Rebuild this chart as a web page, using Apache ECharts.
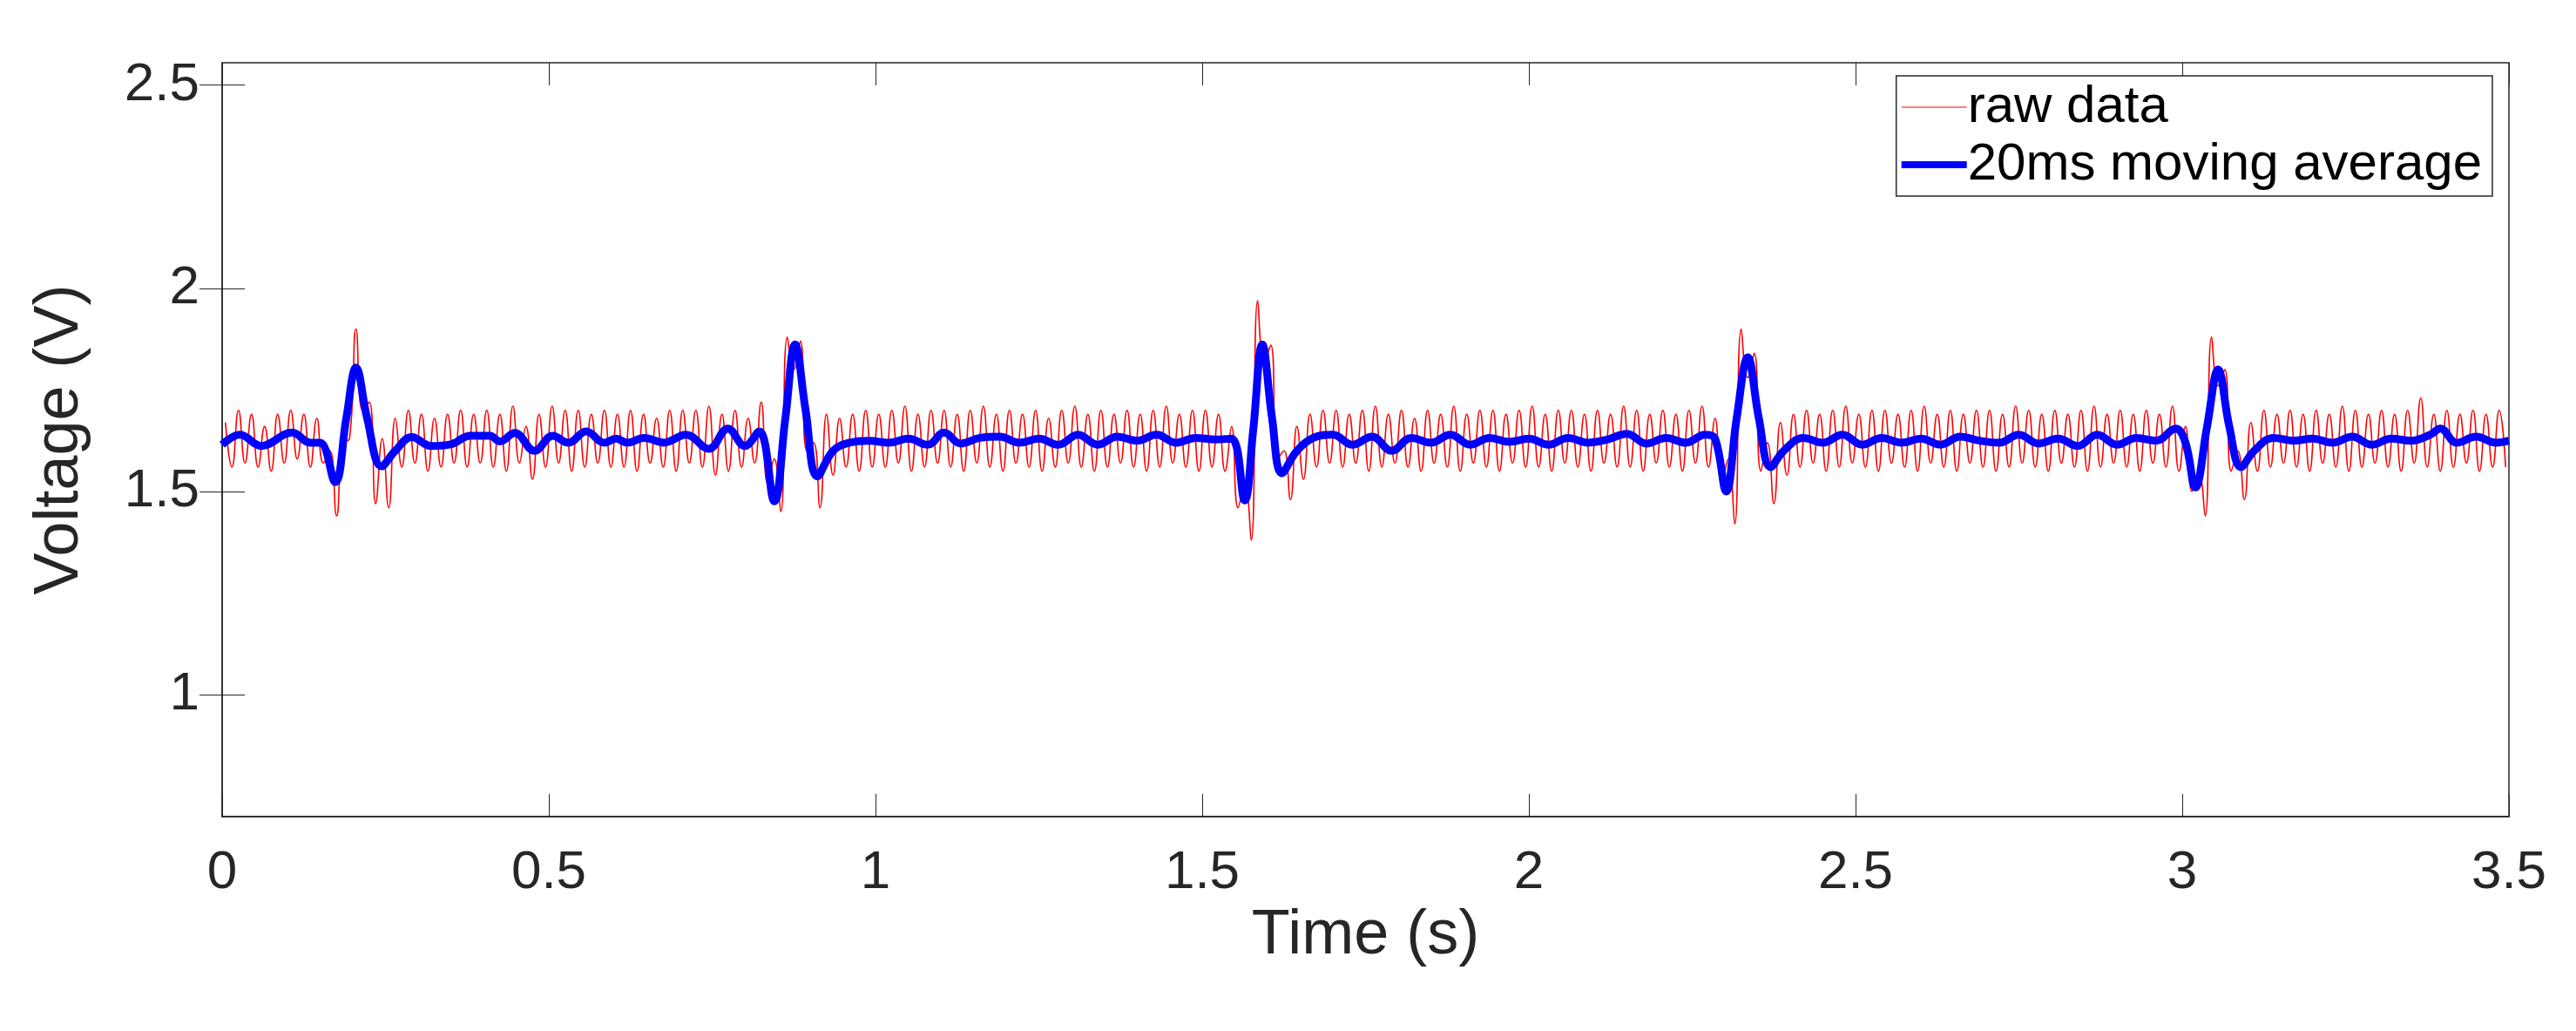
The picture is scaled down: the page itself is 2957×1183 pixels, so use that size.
<!DOCTYPE html>
<html>
<head>
<meta charset="utf-8">
<script src="https://cdn.jsdelivr.net/npm/echarts@6/dist/echarts.min.js"></script>
<style>html,body{margin:0;padding:0;background:#fff}#c{width:2957px;height:1183px}</style>
</head>
<body>
<div id="c"></div>
<script>
// raw signal: alternating peak / trough every 10 ms (one row = 0.1 s)
const RAW_STEP = 0.01;
const RAW_START = 0.005;
const rawValues = [
  1.67,1.56,1.70,1.57,1.69,1.56,1.66,1.55,1.69,1.57,
  1.70,1.58,1.69,1.56,1.68,1.57,1.60,1.44,1.62,1.63,
  1.90,1.70,1.72,1.47,1.63,1.46,1.68,1.56,1.70,1.57,
  1.69,1.55,1.68,1.56,1.69,1.57,1.70,1.56,1.69,1.57,
  1.70,1.56,1.69,1.55,1.71,1.57,1.66,1.53,1.69,1.56,
  1.71,1.57,1.70,1.55,1.70,1.56,1.69,1.57,1.70,1.56,
  1.69,1.56,1.70,1.55,1.69,1.57,1.68,1.56,1.70,1.55,
  1.70,1.57,1.70,1.56,1.71,1.54,1.69,1.55,1.70,1.56,
  1.68,1.57,1.72,1.52,1.58,1.45,1.88,1.80,1.87,1.60,
  1.62,1.46,1.69,1.54,1.68,1.56,1.69,1.55,1.70,1.56,
  1.69,1.56,1.70,1.57,1.71,1.55,1.69,1.56,1.70,1.57,
  1.70,1.56,1.69,1.55,1.70,1.57,1.71,1.56,1.69,1.55,
  1.70,1.57,1.69,1.56,1.70,1.55,1.68,1.56,1.70,1.57,
  1.71,1.56,1.69,1.55,1.70,1.56,1.69,1.57,1.70,1.56,
  1.69,1.55,1.70,1.56,1.71,1.57,1.69,1.56,1.70,1.55,
  1.70,1.56,1.69,1.55,1.66,1.46,1.52,1.38,1.97,1.82,
  1.86,1.58,1.60,1.48,1.66,1.53,1.69,1.56,1.70,1.57,
  1.70,1.56,1.69,1.57,1.70,1.55,1.71,1.56,1.69,1.57,
  1.70,1.56,1.68,1.55,1.70,1.57,1.69,1.56,1.71,1.55,
  1.69,1.57,1.70,1.56,1.70,1.55,1.69,1.57,1.70,1.56,
  1.71,1.56,1.69,1.55,1.70,1.57,1.70,1.56,1.69,1.55,
  1.70,1.57,1.69,1.56,1.71,1.56,1.70,1.55,1.69,1.57,
  1.70,1.56,1.69,1.55,1.70,1.57,1.71,1.56,1.68,1.52,
  1.58,1.42,1.90,1.78,1.84,1.55,1.62,1.47,1.67,1.54,
  1.69,1.56,1.70,1.57,1.69,1.55,1.70,1.56,1.71,1.57,
  1.69,1.56,1.70,1.55,1.70,1.57,1.69,1.56,1.70,1.55,
  1.71,1.57,1.69,1.56,1.70,1.55,1.69,1.57,1.70,1.56,
  1.70,1.55,1.69,1.56,1.71,1.57,1.70,1.56,1.69,1.55,
  1.70,1.57,1.69,1.56,1.70,1.55,1.71,1.56,1.69,1.57,
  1.70,1.56,1.69,1.55,1.70,1.57,1.69,1.56,1.71,1.55,
  1.66,1.50,1.55,1.44,1.88,1.76,1.80,1.55,1.60,1.48,
  1.67,1.55,1.70,1.56,1.69,1.57,1.70,1.56,1.69,1.55,
  1.70,1.57,1.69,1.56,1.71,1.55,1.70,1.56,1.69,1.57,
  1.70,1.56,1.69,1.55,1.70,1.57,1.73,1.56,1.69,1.55,
  1.70,1.56,1.69,1.57,1.70,1.55,1.69,1.56,1.70,1.56
];

// 20 ms moving average, read as [time, voltage] keyframes
const avgPoints = [
  [0,1.615],[0.027,1.64],[0.06,1.612],[0.107,1.645],[0.135,1.62],[0.15,1.62],
  [0.173,1.523],[0.19,1.68],[0.205,1.805],[0.222,1.68],[0.244,1.562],[0.265,1.6],
  [0.29,1.634],[0.32,1.612],[0.35,1.616],[0.38,1.637],[0.41,1.637],[0.425,1.623],
  [0.448,1.644],[0.478,1.60],[0.506,1.637],[0.53,1.62],[0.557,1.648],[0.585,1.62],
  [0.603,1.63],[0.62,1.62],[0.646,1.632],[0.676,1.62],[0.71,1.64],[0.745,1.605],
  [0.774,1.655],[0.8,1.612],[0.822,1.648],[0.845,1.476],[0.862,1.68],[0.877,1.862],
  [0.893,1.70],[0.911,1.537],[0.935,1.60],[0.96,1.62],[0.99,1.625],[1.02,1.62],
  [1.05,1.63],[1.08,1.615],[1.105,1.645],[1.13,1.618],[1.16,1.632],[1.19,1.635],
  [1.22,1.62],[1.25,1.63],[1.28,1.615],[1.31,1.64],[1.34,1.615],[1.37,1.635],
  [1.40,1.625],[1.43,1.64],[1.46,1.62],[1.49,1.632],[1.52,1.628],[1.545,1.63],
  [1.565,1.478],[1.578,1.65],[1.592,1.862],[1.607,1.68],[1.622,1.545],[1.645,1.60],
  [1.67,1.632],[1.70,1.64],[1.73,1.615],[1.76,1.635],[1.79,1.60],[1.82,1.632],
  [1.85,1.62],[1.88,1.64],[1.91,1.615],[1.94,1.632],[1.97,1.622],[2.0,1.63],
  [2.03,1.615],[2.06,1.632],[2.09,1.62],[2.12,1.628],[2.15,1.642],[2.18,1.618],
  [2.21,1.632],[2.24,1.62],[2.27,1.64],[2.285,1.63],[2.302,1.50],[2.318,1.68],
  [2.335,1.83],[2.352,1.68],[2.37,1.56],[2.39,1.60],[2.42,1.632],[2.45,1.62],
  [2.48,1.64],[2.51,1.615],[2.54,1.632],[2.57,1.62],[2.60,1.63],[2.63,1.615],
  [2.66,1.635],[2.69,1.625],[2.72,1.62],[2.75,1.64],[2.78,1.618],[2.81,1.63],
  [2.84,1.612],[2.87,1.64],[2.90,1.615],[2.93,1.632],[2.96,1.625],[2.99,1.655],
  [3.005,1.62],[3.02,1.51],[3.038,1.66],[3.055,1.80],[3.072,1.66],[3.09,1.56],
  [3.11,1.60],[3.14,1.632],[3.17,1.625],[3.20,1.63],[3.23,1.62],[3.26,1.635],
  [3.29,1.615],[3.32,1.63],[3.35,1.625],[3.38,1.64],[3.395,1.655],[3.42,1.62],
  [3.45,1.635],[3.48,1.62],[3.50,1.625]
];

const yTickValues = [1, 1.5, 2, 2.5];

const rawPoints = rawValues.map((v, i) => [RAW_START + i * RAW_STEP, v]);

const chart = echarts.init(document.getElementById('c'));
const fontFam = 'Liberation Sans, Arial, sans-serif';
const tickLabel = { fontFamily: fontFam, fontSize: 62, color: '#262626' };

chart.setOption({
  animation: false,
  grid: { left: 255, right: 77, top: 72, bottom: 246, show: true, borderColor: '#262626', borderWidth: 1.5 },
  legend: {
    orient: 'vertical', right: 96, top: 87, itemWidth: 75, itemHeight: 20, itemGap: 6,
    backgroundColor: '#fff', borderColor: '#262626', borderWidth: 1.5, padding: [6, 12, 6, 6],
    textStyle: { fontFamily: fontFam, fontSize: 60, color: '#000', padding: [0, 0, 0, -4] },
    data: [
      { name: 'raw data', icon: 'path://M0,9.5h75v1h-75z' },
      { name: '20ms moving average', icon: 'path://M0,6h75v8h-75z' }
    ]
  },
  xAxis: [{
    type: 'value', min: 0, max: 3.5, interval: 0.5,
    name: 'Time (s)', nameLocation: 'middle', nameGap: 95,
    nameTextStyle: { fontFamily: fontFam, fontSize: 72, color: '#262626' },
    axisLine: { lineStyle: { color: '#262626', width: 1.5 } },
    axisTick: { inside: true, length: 26, lineStyle: { color: '#262626' } },
    axisLabel: Object.assign({ margin: 34 }, tickLabel),
    splitLine: { show: false }
  }, {
    type: 'value', position: 'top', min: 0, max: 3.5, interval: 0.5,
    axisLine: { show: false }, axisLabel: { show: false },
    axisTick: { inside: true, length: 26, lineStyle: { color: '#262626' } },
    splitLine: { show: false }
  }],
  yAxis: [{
    type: 'value', min: 0.7, max: 2.555,
    name: 'Voltage (V)', nameLocation: 'middle', nameGap: 150,
    nameTextStyle: { fontFamily: fontFam, fontSize: 72, color: '#262626' },
    axisLine: { show: true, lineStyle: { color: '#262626', width: 1.5 } },
    axisTick: { inside: true, length: 26, customValues: yTickValues, lineStyle: { color: '#262626' } },
    axisLabel: Object.assign({ margin: 26, customValues: yTickValues }, tickLabel),
    splitLine: { show: false }
  }, {
    type: 'value', position: 'right', min: 0.7, max: 2.555,
    axisLine: { show: false }, axisLabel: { show: false },
    axisTick: { inside: true, length: 26, customValues: yTickValues, lineStyle: { color: '#262626' } },
    splitLine: { show: false }
  }],
  series: [{
    name: 'raw data', type: 'line', data: rawPoints, smooth: 0.5, symbol: 'none',
    lineStyle: { color: '#ff0000', width: 1.6 }, itemStyle: { color: '#ff0000' }
  }, {
    name: '20ms moving average', type: 'line', data: avgPoints, smooth: 0.4, symbol: 'none',
    lineStyle: { color: '#0000ff', width: 9 }, itemStyle: { color: '#0000ff' }
  }]
});
</script>
</body>
</html>
